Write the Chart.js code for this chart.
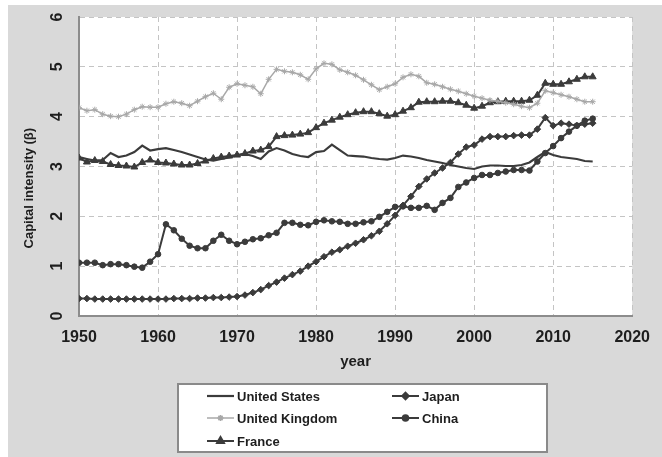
<!DOCTYPE html>
<html lang="en">
<head>
    <meta charset="UTF-8">
    <title>Capital intensity</title>
    <style>
        html, body { margin: 0; padding: 0; background: #ffffff; }
        .chart-container { position: relative; width: 662px; height: 457px; }
    </style>
</head>
<body>
    <div class="chart-container">
        <canvas id="capitalChart"></canvas>
    </div>

    <script src="https://cdn.jsdelivr.net/npm/chart.js"></script>
    <script>
        // Years on the x axis
        const years = [
            1950, 1951, 1952, 1953, 1954, 1955, 1956, 1957, 1958, 1959,
            1960, 1961, 1962, 1963, 1964, 1965, 1966, 1967, 1968, 1969,
            1970, 1971, 1972, 1973, 1974, 1975, 1976, 1977, 1978, 1979,
            1980, 1981, 1982, 1983, 1984, 1985, 1986, 1987, 1988, 1989,
            1990, 1991, 1992, 1993, 1994, 1995, 1996, 1997, 1998, 1999,
            2000, 2001, 2002, 2003, 2004, 2005, 2006, 2007, 2008, 2009,
            2010, 2011, 2012, 2013, 2014, 2015
        ];

        // Capital intensity (beta) per country
        const unitedStates = [
            3.19, 3.15, 3.12, 3.13, 3.27, 3.19, 3.22, 3.29, 3.42, 3.32,
            3.35, 3.37, 3.33, 3.29, 3.24, 3.19, 3.14, 3.12, 3.15, 3.18,
            3.22, 3.25, 3.21, 3.15, 3.30, 3.37, 3.32, 3.25, 3.21, 3.19,
            3.29, 3.31, 3.44, 3.33, 3.22, 3.21, 3.20, 3.17, 3.15, 3.14,
            3.17, 3.22, 3.20, 3.17, 3.13, 3.10, 3.07, 3.03, 3.00, 2.97,
            2.95, 3.00, 3.02, 3.02, 3.01, 3.01, 3.03, 3.08, 3.19, 3.29,
            3.23, 3.19, 3.17, 3.15, 3.11, 3.10
        ];
        const unitedKingdom = [
            4.18, 4.12, 4.14, 4.05, 4.01, 4.00, 4.05, 4.14, 4.20, 4.19,
            4.19, 4.26, 4.30, 4.27, 4.22, 4.31, 4.40, 4.47, 4.35, 4.59,
            4.66, 4.63, 4.60, 4.46, 4.75, 4.95, 4.91, 4.89, 4.84, 4.75,
            4.96, 5.07, 5.05, 4.94, 4.89, 4.83, 4.74, 4.64, 4.54, 4.60,
            4.66, 4.79, 4.85, 4.81, 4.68, 4.65, 4.60, 4.55, 4.51, 4.46,
            4.41, 4.37, 4.33, 4.31, 4.28, 4.25, 4.21, 4.18, 4.27, 4.52,
            4.48, 4.44, 4.40, 4.35, 4.30, 4.30
        ];
        const france = [
            3.17, 3.09, 3.12, 3.10, 3.04, 3.02, 3.01, 2.99, 3.08, 3.13,
            3.08, 3.07, 3.05, 3.03, 3.03, 3.06, 3.11, 3.16, 3.19, 3.21,
            3.23, 3.26, 3.31, 3.33, 3.40, 3.60, 3.62, 3.63, 3.65, 3.68,
            3.78, 3.87, 3.93, 3.99, 4.04, 4.08, 4.10, 4.10, 4.06, 4.01,
            4.04, 4.11, 4.18, 4.29, 4.30, 4.30, 4.31, 4.31, 4.28, 4.23,
            4.17, 4.21, 4.28, 4.30, 4.31, 4.31, 4.31, 4.33, 4.43, 4.67,
            4.65, 4.65, 4.70, 4.75, 4.80, 4.80
        ];
        const japan = [
            0.35, 0.35, 0.34, 0.34, 0.34, 0.34, 0.34, 0.34, 0.34, 0.34,
            0.34, 0.34, 0.35, 0.35, 0.35, 0.36, 0.36, 0.37, 0.37, 0.38,
            0.39, 0.42, 0.47, 0.53, 0.61, 0.68, 0.76, 0.83, 0.90, 1.00,
            1.09, 1.19, 1.28, 1.33, 1.40, 1.46, 1.53, 1.61, 1.70, 1.85,
            2.02, 2.22, 2.40, 2.60, 2.75, 2.87, 2.97, 3.08, 3.25, 3.39,
            3.43, 3.55, 3.60, 3.60, 3.60, 3.62, 3.63, 3.63, 3.75, 3.98,
            3.82, 3.87, 3.85, 3.82, 3.85, 3.87
        ];
        const china = [
            1.07, 1.07, 1.07, 1.02, 1.04, 1.04, 1.02, 0.99, 0.97, 1.09,
            1.24, 1.84, 1.72, 1.55, 1.41, 1.36, 1.36, 1.51, 1.63, 1.51,
            1.44, 1.49, 1.54, 1.56, 1.62, 1.67, 1.87, 1.87, 1.83, 1.82,
            1.89, 1.92, 1.90, 1.89, 1.85, 1.85, 1.88, 1.90, 1.99, 2.09,
            2.19, 2.20, 2.17, 2.17, 2.21, 2.13, 2.27, 2.37, 2.59, 2.68,
            2.77, 2.83, 2.83, 2.87, 2.90, 2.93, 2.93, 2.92, 3.10, 3.27,
            3.41, 3.57, 3.70, 3.82, 3.92, 3.96
        ];

        // Axis ticks
        const xTicks = [1950, 1960, 1970, 1980, 1990, 2000, 2010, 2020];
        const yTicks = [0, 1, 2, 3, 4, 5, 6];

        const dark = '#3b3b3b';
        const light = '#a8a8a8';
        const toPoints = values => values.map((v, i) => ({ x: years[i], y: v }));

        // Grey frame + white plot area
        const backdrop = {
            id: 'backdrop',
            beforeDraw(chart) {
                const { ctx, chartArea: a } = chart;
                ctx.save();
                ctx.fillStyle = '#d9d9d9';
                ctx.fillRect(8, 5, chart.width - 8, chart.height - 5);
                ctx.fillStyle = '#ffffff';
                ctx.fillRect(a.left, a.top, a.right - a.left, a.bottom - a.top);
                ctx.restore();
            }
        };

        // Boxed two-column legend under the axis title
        const boxLegend = {
            id: 'boxLegend',
            afterDraw(chart) {
                const ctx = chart.ctx;
                const slots = [[207, 396], [392, 396], [207, 418], [392, 418], [207, 441]];
                const order = [0, 3, 1, 4, 2];
                ctx.save();
                ctx.fillStyle = '#ffffff';
                ctx.fillRect(178, 384, 369, 68);
                ctx.strokeStyle = '#8a8a8a';
                ctx.lineWidth = 2;
                ctx.strokeRect(178, 384, 369, 68);
                ctx.font = 'bold 13px "Liberation Sans", Arial, sans-serif';
                ctx.textBaseline = 'middle';
                order.forEach((di, k) => {
                    const ds = chart.data.datasets[di];
                    const [x, y] = slots[k];
                    ctx.strokeStyle = ds.borderColor;
                    ctx.lineWidth = ds.borderWidth;
                    ctx.beginPath();
                    ctx.moveTo(x, y);
                    ctx.lineTo(x + 27, y);
                    ctx.stroke();
                    if (ds.pointRadius > 0) {
                        ctx.fillStyle = ds.pointBackgroundColor;
                        ctx.strokeStyle = ds.pointBorderColor;
                        Chart.helpers.drawPoint(ctx, {
                            pointStyle: ds.pointStyle,
                            radius: ds.pointRadius,
                            borderWidth: ds.pointBorderWidth,
                            rotation: 0
                        }, x + 13.5, y);
                    }
                    ctx.fillStyle = '#1e1e1e';
                    ctx.fillText(ds.label, x + 30, y + 1);
                });
                ctx.restore();
            }
        };

        const ctx = document.getElementById('capitalChart').getContext('2d');
        const chart = new Chart(ctx, {
            type: 'line',
            data: {
                datasets: [
                    {
                        label: 'United States',
                        data: toPoints(unitedStates),
                        borderColor: dark,
                        borderWidth: 2.2,
                        pointRadius: 0
                    },
                    {
                        label: 'United Kingdom',
                        data: toPoints(unitedKingdom),
                        borderColor: light,
                        borderWidth: 1.5,
                        pointStyle: 'star',
                        pointRadius: 3,
                        pointBorderWidth: 1,
                        pointBorderColor: light,
                        pointBackgroundColor: light
                    },
                    {
                        label: 'France',
                        data: toPoints(france),
                        borderColor: dark,
                        borderWidth: 2,
                        pointStyle: 'triangle',
                        pointRadius: 4,
                        pointBorderWidth: 1,
                        pointBorderColor: dark,
                        pointBackgroundColor: dark
                    },
                    {
                        label: 'Japan',
                        data: toPoints(japan),
                        borderColor: dark,
                        borderWidth: 2,
                        pointStyle: 'rectRot',
                        pointRadius: 3.3,
                        pointBorderWidth: 1,
                        pointBorderColor: dark,
                        pointBackgroundColor: dark
                    },
                    {
                        label: 'China',
                        data: toPoints(china),
                        borderColor: dark,
                        borderWidth: 2,
                        pointStyle: 'circle',
                        pointRadius: 2.8,
                        pointBorderWidth: 1,
                        pointBorderColor: dark,
                        pointBackgroundColor: dark
                    }
                ]
            },
            options: {
                responsive: true,
                maintainAspectRatio: false,
                animation: false,
                layout: { padding: { left: 8, top: 17, right: 20, bottom: 81 } },
                plugins: {
                    legend: { display: false },
                    tooltip: { enabled: false }
                },
                scales: {
                    x: {
                        type: 'linear',
                        min: xTicks[0],
                        max: xTicks[xTicks.length - 1],
                        afterBuildTicks: scale => { scale.ticks = xTicks.map(v => ({ value: v })); },
                        afterFit: scale => { scale.height = 60; },
                        grid: { color: '#c4c4c4', lineWidth: 1, drawTicks: false },
                        border: { color: '#8c8c8c', width: 2, dash: [5, 4] },
                        ticks: {
                            padding: 12,
                            maxRotation: 0,
                            color: '#1e1e1e',
                            font: { family: '"Liberation Sans", Arial, sans-serif', size: 16, weight: 'bold' },
                            callback: value => String(value)
                        },
                        title: {
                            display: true,
                            text: 'year',
                            color: '#1e1e1e',
                            padding: { top: 0, bottom: 5 },
                            font: { family: '"Liberation Sans", Arial, sans-serif', size: 15, weight: 'bold' }
                        }
                    },
                    y: {
                        min: yTicks[0],
                        max: yTicks[yTicks.length - 1],
                        afterBuildTicks: scale => { scale.ticks = yTicks.map(v => ({ value: v })); },
                        afterFit: scale => {
                            scale.width = 71;
                            scale.paddingTop = 8;
                            scale.paddingBottom = 8;
                        },
                        grid: { color: '#c4c4c4', lineWidth: 1, drawTicks: false },
                        border: { color: '#8c8c8c', width: 2, dash: [5, 4] },
                        ticks: {
                            padding: 17,
                            minRotation: 90,
                            maxRotation: 90,
                            crossAlign: 'center',
                            color: '#1e1e1e',
                            font: { family: '"Liberation Sans", Arial, sans-serif', size: 16, weight: 'bold' }
                        },
                        title: {
                            display: true,
                            text: 'Capital intensity (β)\u00a0\u00a0\u00a0\u00a0\u00a0\u00a0\u00a0\u00a0\u00a0\u00a0\u00a0\u00a0',
                            color: '#1e1e1e',
                            padding: { top: 14, bottom: 0 },
                            font: { family: '"Liberation Sans", Arial, sans-serif', size: 13, weight: 'bold' }
                        }
                    }
                }
            },
            plugins: [backdrop, boxLegend]
        });
    </script>
</body>
</html>
